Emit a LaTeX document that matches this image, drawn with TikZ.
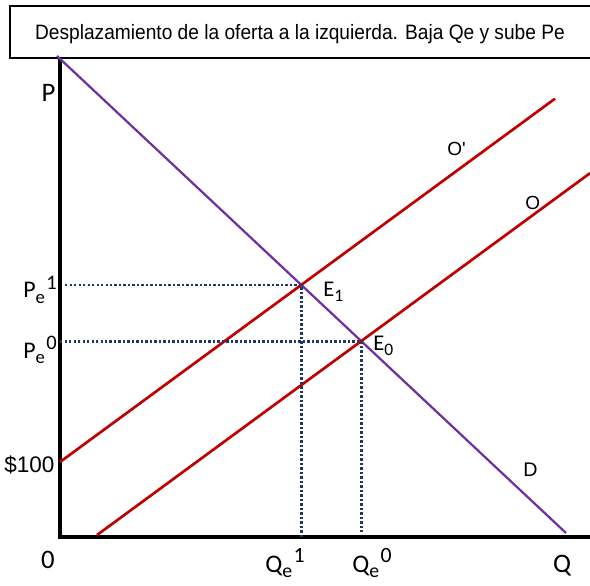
\documentclass[tikz,border=0pt]{standalone}
\usepackage{fontspec}
\setmainfont{Carlito}
\newfontfamily\narrowfont[FakeStretch=0.92]{Liberation Sans}
\newfontfamily\arialfont{Liberation Sans}
\usetikzlibrary{math, intersections}
\definecolor{supred}{RGB}{192,0,0}
\definecolor{dempurple}{RGB}{112,48,160}
\definecolor{mynavy}{RGB}{31,56,100}
\newcommand{\ssup}[1]{\raisebox{0.36em}{\scalebox{0.86}{#1}}}
\newcommand{\ssub}[1]{\raisebox{-0.22em}{\scalebox{0.78}{#1}}}

\begin{document}
\begin{tikzpicture}[x=0.025cm, y=0.025cm]
\tikzmath{
\L=530;
\H=479;
\s=0.734;
\bO=-25.2;
\bOp=75;
}
\useasboundingbox (-60,-48) rectangle (\L,537);
%title
\draw[line width=1.5pt] (-50,\H) rectangle (\L+15,531);
\node[anchor=base] (title) at (240,497) {\narrowfont\fontsize{14.8}{16}\selectfont Desplazamiento de la oferta a la izquierda. Baja Qe y sube Pe};

%axis
\draw[line width=2.2pt] (0,\H) -- (0,0) -- (\L,0);
\node[anchor=base, font=\fontsize{19}{21}\selectfont] (P) at (-11.5,435) {P};
\node[anchor=base, font=\fontsize{19}{21}\selectfont] (zero) at (-12,-31) {0};
\node[anchor=base, font=\fontsize{19}{21}\selectfont] (Q) at (502,-35) {Q};
\node[anchor=base east, font=\fontsize{16}{18}\selectfont, inner sep=1pt] (p100) at (-4,65) {\addfontfeature{FakeStretch=0.95}\arialfont\$100};

%demand and supply
\draw[name path=D, color=dempurple, line width=1.6pt] (-3,481) -- (506,4);
\draw[name path=O, color=supred, line width=1.9pt] (37,\s*37+\bO) -- (\L,\s*\L+\bO);
\draw[name path=Op, color=supred, line width=1.9pt] (0,\bOp) -- (495,\s*495+\bOp);
\node[anchor=base west, font=\arialfont\fontsize{14}{16}\selectfont, inner sep=0pt] (lD) at (463,61) {D};
\node[anchor=base west, font=\arialfont\fontsize{13.5}{16}\selectfont, inner sep=0pt] (lO) at (465,327) {O};
\node[anchor=base west, font=\arialfont\fontsize{13.5}{16}\selectfont, inner sep=0pt] (lOp) at (387,381) {O\textquotesingle};

%equilibria
\path[name intersections={of=D and Op, by=E1}];
\path[name intersections={of=D and O, by=E0}];
\draw[color=mynavy, line width=2pt, dash pattern=on 1.7pt off 1.5pt] (5,0 |- E1) -- (E1) -- (E1 |- 0,0);
\draw[color=mynavy, line width=2pt, dash pattern=on 1.7pt off 1.5pt] (0,0 |- E0) -- (E0) -- (E0 |- 0,5);
\node[anchor=base west, font=\fontsize{16}{18}\selectfont, inner sep=0pt] (lE1) at (263,240) {E\ssub{1}};
\node[anchor=base west, font=\fontsize{16}{18}\selectfont, inner sep=0pt] (lE0) at (313,186) {E\ssub{0}};

\node[anchor=base west, font=\fontsize{17}{19}\selectfont, inner sep=0pt] (Pe1) at (-37,239) {P\ssub{e}\kern1pt\ssup{1}};
\node[anchor=base west, font=\fontsize{17}{19}\selectfont, inner sep=0pt] (Pe0) at (-37,179) {P\ssub{e}\kern1pt\ssup{0}};
\node[anchor=base west, font=\fontsize{18}{20}\selectfont, inner sep=0pt] (Qe1) at (205,-35) {Q\ssub{e}\kern1pt\ssup{1}};
\node[anchor=base west, font=\fontsize{18}{20}\selectfont, inner sep=0pt] (Qe0) at (292,-35) {Q\ssub{e}\kern1pt\ssup{0}};
\end{tikzpicture}
\end{document}
